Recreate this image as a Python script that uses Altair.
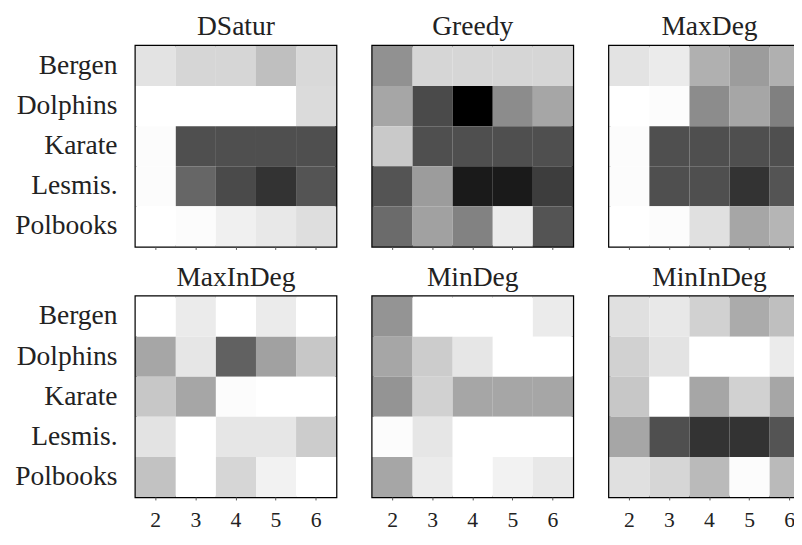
import altair as alt
import pandas as pd

datasets = ["Bergen", "Dolphins", "Karate", "Lesmis.", "Polbooks"]
ks = [2, 3, 4, 5, 6]
algorithms = ["DSatur", "Greedy", "MaxDeg", "MaxInDeg", "MinDeg", "MinInDeg"]

# darkness of each cell (0 = white, 1 = black); rows = datasets, columns = k
dsatur = [
    [0.11, 0.16, 0.16, 0.25, 0.15],
    [0.00, 0.00, 0.00, 0.00, 0.14],
    [0.01, 0.69, 0.69, 0.69, 0.69],
    [0.01, 0.60, 0.71, 0.80, 0.67],
    [0.00, 0.01, 0.06, 0.09, 0.13],
]
greedy = [
    [0.43, 0.16, 0.16, 0.16, 0.16],
    [0.35, 0.71, 1.00, 0.45, 0.35],
    [0.21, 0.69, 0.69, 0.69, 0.69],
    [0.67, 0.39, 0.90, 0.90, 0.76],
    [0.58, 0.37, 0.49, 0.08, 0.67],
]
maxdeg = [
    [0.11, 0.08, 0.31, 0.39, 0.31],
    [0.00, 0.01, 0.45, 0.35, 0.50],
    [0.01, 0.69, 0.69, 0.69, 0.69],
    [0.01, 0.69, 0.69, 0.80, 0.67],
    [0.00, 0.01, 0.12, 0.35, 0.29],
]
maxindeg = [
    [0.00, 0.08, 0.00, 0.08, 0.00],
    [0.35, 0.10, 0.62, 0.37, 0.22],
    [0.22, 0.35, 0.01, 0.00, 0.00],
    [0.11, 0.00, 0.10, 0.10, 0.20],
    [0.24, 0.00, 0.16, 0.05, 0.00],
]
mindeg = [
    [0.42, 0.00, 0.00, 0.00, 0.08],
    [0.35, 0.20, 0.10, 0.00, 0.00],
    [0.42, 0.18, 0.35, 0.35, 0.35],
    [0.01, 0.10, 0.00, 0.00, 0.00],
    [0.35, 0.08, 0.00, 0.05, 0.09],
]
minindeg = [
    [0.12, 0.09, 0.18, 0.33, 0.25],
    [0.18, 0.11, 0.00, 0.00, 0.08],
    [0.22, 0.00, 0.35, 0.18, 0.35],
    [0.35, 0.69, 0.80, 0.80, 0.67],
    [0.12, 0.16, 0.27, 0.01, 0.27],
]
matrices = [dsatur, greedy, maxdeg, maxindeg, mindeg, minindeg]

rows = []
for algo, mat in zip(algorithms, matrices):
    for i, ds in enumerate(datasets):
        for j, k in enumerate(ks):
            rows.append({"algo": algo, "dataset": ds, "k": k, "shade": mat[i][j]})
df = pd.DataFrame(rows)

FONT = "Liberation Serif"
FS = 28
XFS = 22
TXT = "#222222"


def panel(name, show_y, show_x):
    yaxis = (
        alt.Axis(title=None, ticks=False, domain=False, labelPadding=19,
                 labelFontSize=FS, labelColor=TXT, labelFont=FONT)
        if show_y else None
    )
    xaxis = alt.Axis(title=None, labels=show_x, ticks=True, tickSize=3,
                     tickColor="#555555", domain=False, labelAngle=0,
                     labelPadding=10, labelFontSize=XFS, labelColor=TXT,
                     labelFont=FONT)
    return (
        alt.Chart(df[df.algo == name])
        .mark_rect()
        .encode(
            x=alt.X("k:O", sort=ks, axis=xaxis),
            y=alt.Y("dataset:N", sort=datasets, axis=yaxis),
            color=alt.Color(
                "shade:Q",
                scale=alt.Scale(domain=[0, 1], range=["#ffffff", "#000000"],
                                interpolate="rgb"),
                legend=None,
            ),
        )
        .properties(
            width=204,
            height=204,
            title=alt.TitleParams(name, fontSize=FS, font=FONT, color=TXT,
                                  fontWeight="normal", offset=5),
        )
    )


top = alt.hconcat(panel("DSatur", True, False), panel("Greedy", False, False),
                  panel("MaxDeg", False, False), spacing=33)
bottom = alt.hconcat(panel("MaxInDeg", True, True), panel("MinDeg", False, True),
                     panel("MinInDeg", False, True), spacing=33)

chart = (
    alt.vconcat(top, bottom, spacing=11)
    .properties(padding={"left": 5, "top": -1, "right": -18, "bottom": -1})
    .configure(font=FONT)
    .configure_title(fontWeight="normal")
    .configure_view(stroke="#000000", strokeWidth=2.5)
)

chart.save("out.html", embed_options={"renderer": "svg", "actions": False})
